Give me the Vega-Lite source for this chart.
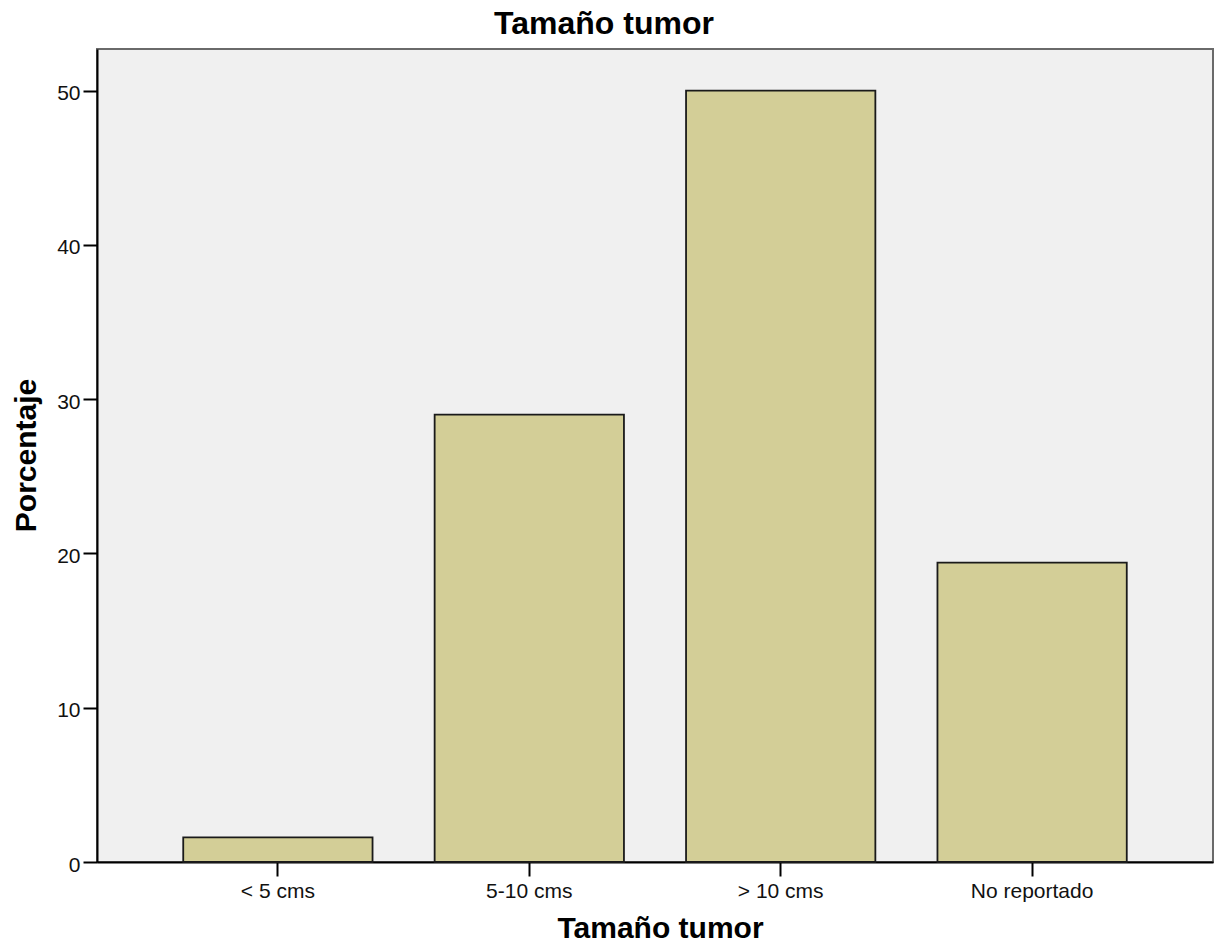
{
  "$schema": "https://vega.github.io/schema/vega-lite/v6.json",
  "width": 1116,
  "height": 813,
  "autosize": "none",
  "padding": {"left": 97, "top": 49, "right": 2, "bottom": 89},
  "background": "white",
  "title": {
    "text": "Tamaño tumor",
    "font": "Liberation Sans",
    "fontSize": 32,
    "fontWeight": "bold",
    "color": "black",
    "anchor": "middle",
    "baseline": "alphabetic",
    "offset": 14,
    "dx": -51,
    "dy": 31
  },
  "config": {
    "view": {"fill": "#F0F0F0", "stroke": "#6a6a6a", "strokeWidth": 2},
    "axis": {
      "labelFont": "Liberation Sans",
      "labelFontSize": 21,
      "labelColor": "#111",
      "titleFont": "Liberation Sans",
      "titleFontSize": 30,
      "titleFontWeight": "bold",
      "titleColor": "black",
      "domainColor": "black",
      "domainWidth": 2,
      "tickColor": "black",
      "tickWidth": 2,
      "tickSize": 14,
      "grid": false
    }
  },
  "data": {
    "values": [
      {"cat": "< 5 cms", "pct": 1.6},
      {"cat": "5-10 cms", "pct": 29.0},
      {"cat": "> 10 cms", "pct": 50.0},
      {"cat": "No reportado", "pct": 19.4}
    ]
  },
  "mark": {"type": "bar", "fill": "#D3CE97", "stroke": "#1a1a1a", "strokeWidth": 1.8},
  "encoding": {
    "x": {
      "field": "cat",
      "type": "nominal",
      "sort": null,
      "scale": {"paddingInner": 0.247, "paddingOuter": 0.343},
      "axis": {
        "title": "Tamaño tumor",
        "labelAngle": 0,
        "labelBaseline": "alphabetic",
        "labelPadding": 21,
        "titleBaseline": "alphabetic",
        "titleY": 75,
        "titleX": 563,
        "titleAnchor": null
      }
    },
    "y": {
      "field": "pct",
      "type": "quantitative",
      "scale": {"domain": [0, 52.7], "nice": false},
      "axis": {
        "title": "Porcentaje",
        "values": [0, 10, 20, 30, 40, 50],
        "labelPadding": 3,
        "labelOffset": 3,
        "titleAngle": -90,
        "titleBaseline": "alphabetic",
        "titleAlign": "center",
        "titleX": -62,
        "titleY": 406
      }
    }
  }
}
